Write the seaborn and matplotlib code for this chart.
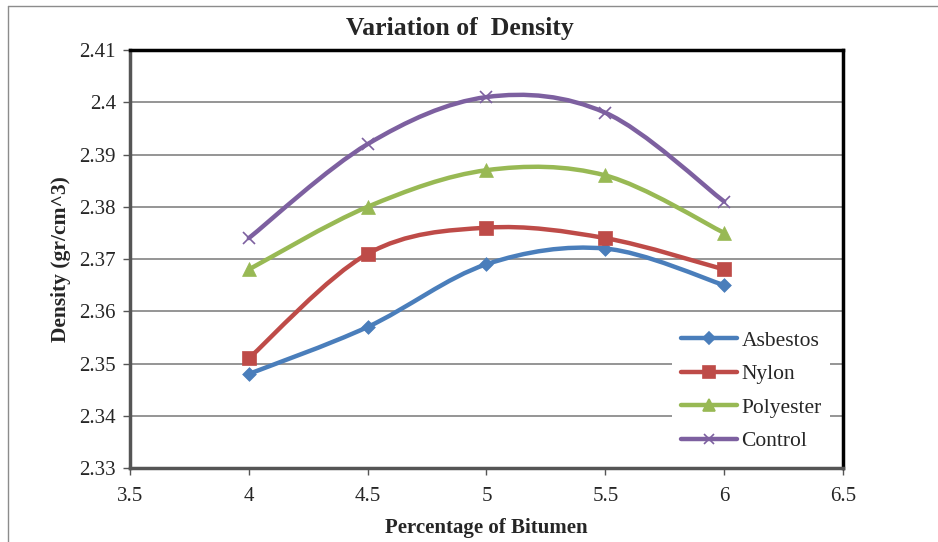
import numpy as np
import pandas as pd
import seaborn as sns
import matplotlib.pyplot as plt
from matplotlib.path import Path
from matplotlib.patches import PathPatch
from matplotlib.lines import Line2D

bitumen = [4, 4.5, 5, 5.5, 6]
asbestos = [2.348, 2.357, 2.369, 2.372, 2.365]
nylon = [2.351, 2.371, 2.376, 2.374, 2.368]
polyester = [2.368, 2.380, 2.387, 2.386, 2.375]
control = [2.374, 2.392, 2.401, 2.398, 2.381]

names = ['Asbestos', 'Nylon', 'Polyester', 'Control']
colors = ['#4A7EBB', '#BE4B48', '#98B954', '#7D60A0']
markers = ['D', 's', '^', 'x']
msizes = [7, 9.5, 10, 9]


def smooth_path(xs, ys):
    # excel style smoothed line: bezier segments through the points
    pts = np.column_stack([xs, ys]).astype(float)
    n = len(pts)
    verts = [pts[0]]
    codes = [Path.MOVETO]
    for i in range(n - 1):
        p0 = pts[max(i - 1, 0)]
        p1 = pts[i]
        p2 = pts[i + 1]
        p3 = pts[min(i + 2, n - 1)]
        verts += [p1 + (p2 - p0) / 6, p2 - (p3 - p1) / 6, p2]
        codes += [Path.CURVE4] * 3
    return Path(verts, codes)


df = pd.DataFrame({'x': bitumen * 4,
                   'y': asbestos + nylon + polyester + control,
                   'series': sum([[n] * len(bitumen) for n in names], [])})

sns.set_style('white')
plt.rcParams['font.family'] = ['Liberation Serif', 'DejaVu Serif']

fig = plt.figure(figsize=(9.38, 5.42), dpi=100)
ax = fig.add_axes([0.1386, 0.1365, 0.7601, 0.7712])

ax.set_axisbelow(True)
ax.grid(axis='y', color='#8c8c8c', linewidth=1.3)

for name, c in zip(names, colors):
    sub = df[df['series'] == name]
    ax.add_patch(PathPatch(smooth_path(sub['x'], sub['y']), facecolor='none',
                           edgecolor=c, linewidth=3.2, zorder=3, capstyle='round'))

for name, c, m, s in zip(names, colors, markers, msizes):
    sub = df[df['series'] == name]
    if m == 'x':
        ax.plot(sub['x'], sub['y'], linestyle='', marker=m, markersize=s,
                markeredgewidth=1.2, color=c, zorder=4)
    else:
        sns.scatterplot(x='x', y='y', data=sub, marker=m, s=s ** 2, color=c,
                        edgecolor=c, linewidth=0.5, ax=ax, zorder=4, legend=False)

ax.set_xlim(3.5, 6.5)
ax.set_ylim(2.33, 2.41)
ax.set_xticks([3.5, 4, 4.5, 5, 5.5, 6, 6.5])
ax.set_xticklabels(['3.5', '4', '4.5', '5', '5.5', '6', '6.5'])
ax.set_yticks([2.33, 2.34, 2.35, 2.36, 2.37, 2.38, 2.39, 2.4, 2.41])
ax.set_yticklabels(['2.33', '2.34', '2.35', '2.36', '2.37', '2.38', '2.39', '2.4', '2.41'])
ax.tick_params(axis='both', which='both', direction='out', length=5, width=1,
               color='#555555', labelsize=15, left=True, bottom=True)
ax.tick_params(axis='x', pad=9)
ax.tick_params(axis='y', pad=5)

for side in ['left', 'bottom']:
    ax.spines[side].set_color('#555555')
    ax.spines[side].set_linewidth(2.5)
for side in ['top', 'right']:
    ax.spines[side].set_color('black')
    ax.spines[side].set_linewidth(2.5)
for side in ax.spines:
    ax.spines[side].set_zorder(7)

ax.set_xlabel('Percentage of Bitumen', fontsize=15, fontweight='bold', labelpad=8)
ax.set_ylabel('Density (gr/cm^3)', fontsize=15.5, fontweight='bold', labelpad=6)
fig.text(0.49, 0.948, 'Variation of  Density', ha='center', va='center',
         fontsize=18.5, fontweight='bold')

handles = []
for c, m, s in zip(colors, markers, msizes):
    handles.append(Line2D([0], [0], color=c, linewidth=3.2, marker=m,
                          markersize=s * 0.85, markeredgewidth=1.2,
                          solid_capstyle='round'))
leg = ax.legend(handles, names, loc='lower right', bbox_to_anchor=(0.982, 0.02),
                frameon=True, fontsize=15.5, handlelength=2.6, handletextpad=0.2,
                labelspacing=0.62, borderaxespad=0, borderpad=0.4,
                facecolor='white', edgecolor='white', framealpha=1)
leg.get_frame().set_linewidth(0)
leg.set_zorder(5)

# outer chart border
fig.add_artist(Line2D([0.0085, 0.0085], [0, 0.989], color='#8c8c8c', linewidth=1))
fig.add_artist(Line2D([0.0085, 1], [0.989, 0.989], color='#8c8c8c', linewidth=1))

plt.savefig('out.png', dpi=100)
